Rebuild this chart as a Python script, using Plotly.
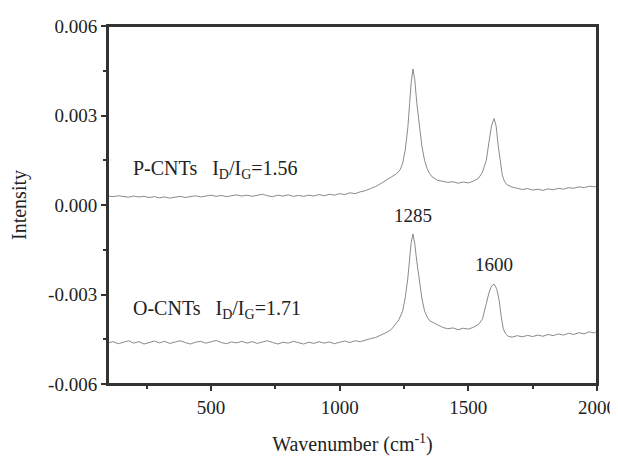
import plotly.graph_objects as go

# P-CNTs spectrum (wavenumber, intensity)
p_x = [100, 120, 140, 160, 180, 200, 220, 240, 260, 280, 300, 320, 340, 360, 380, 400,
       420, 440, 460, 480, 500, 520, 540, 560, 580, 600, 620, 640, 660, 680, 700, 720,
       740, 760, 780, 800, 820, 840, 860, 880, 900, 920, 940, 960, 980, 1000, 1020, 1040,
       1060, 1080, 1100, 1120, 1140, 1160, 1180, 1200, 1220, 1235, 1245, 1255, 1265, 1272,
       1278, 1285, 1292, 1300, 1310, 1320, 1330, 1340, 1350, 1360, 1380, 1400, 1420, 1440,
       1460, 1480, 1500, 1520, 1540, 1555, 1570, 1580, 1590, 1600, 1608, 1616, 1624, 1632,
       1640, 1650, 1670, 1690, 1710, 1730, 1750, 1770, 1790, 1810, 1830, 1850, 1870, 1890,
       1910, 1930, 1950, 1970, 1990, 2000]
p_y = [0.00030, 0.00028, 0.00031, 0.00029, 0.00026, 0.00030, 0.00027, 0.00029, 0.00025, 0.00028,
       0.00024, 0.00027, 0.00023, 0.00026, 0.00029, 0.00025, 0.00028, 0.00031, 0.00027, 0.00030,
       0.00033, 0.00029, 0.00032, 0.00028, 0.00031, 0.00034, 0.00030, 0.00033, 0.00029, 0.00032,
       0.00036, 0.00031, 0.00028, 0.00033, 0.00030, 0.00034, 0.00029, 0.00032, 0.00029, 0.00033,
       0.00030, 0.00035, 0.00031, 0.00036, 0.00033, 0.00038, 0.00035, 0.00041, 0.00038, 0.00044,
       0.00048, 0.00055, 0.00062, 0.00072, 0.00082, 0.00092, 0.00104, 0.00118, 0.00140, 0.00185,
       0.00260, 0.00340, 0.00410, 0.00456, 0.00420, 0.00340, 0.00260, 0.00195, 0.00150, 0.00122,
       0.00105, 0.00094, 0.00083, 0.00080, 0.00076, 0.00078, 0.00073, 0.00077, 0.00074, 0.00080,
       0.00090, 0.00110, 0.00150, 0.00210, 0.00265, 0.00290, 0.00265, 0.00200, 0.00140, 0.00100,
       0.00080, 0.00068, 0.00060, 0.00057, 0.00052, 0.00055, 0.00050, 0.00053, 0.00049, 0.00054,
       0.00051, 0.00056, 0.00053, 0.00058, 0.00056, 0.00061, 0.00058, 0.00063, 0.00061, 0.00065]

# O-CNTs spectrum (wavenumber, intensity)
o_x = [100, 120, 140, 160, 180, 200, 220, 240, 260, 280, 300, 320, 340, 360, 380, 400,
       420, 440, 460, 480, 500, 520, 540, 560, 580, 600, 620, 640, 660, 680, 700, 720,
       740, 760, 780, 800, 820, 840, 860, 880, 900, 920, 940, 960, 980, 1000, 1020, 1040,
       1060, 1080, 1100, 1120, 1140, 1160, 1180, 1200, 1215, 1230, 1245, 1255, 1265, 1272,
       1278, 1285, 1292, 1300, 1310, 1320, 1330, 1340, 1350, 1365, 1380, 1400, 1420, 1440,
       1460, 1480, 1500, 1520, 1540, 1555, 1570, 1580, 1590, 1600, 1610, 1620, 1628, 1636,
       1645, 1655, 1670, 1690, 1710, 1730, 1750, 1770, 1790, 1810, 1830, 1850, 1870, 1890,
       1910, 1930, 1950, 1970, 1990, 2000]
o_y = [-0.00462, -0.00458, -0.00465, -0.00460, -0.00455, -0.00463, -0.00458, -0.00466, -0.00460, -0.00456,
       -0.00462, -0.00457, -0.00464, -0.00459, -0.00455, -0.00461, -0.00466, -0.00460, -0.00457, -0.00463,
       -0.00458, -0.00454, -0.00461, -0.00465, -0.00459, -0.00462, -0.00457, -0.00463, -0.00458, -0.00464,
       -0.00459, -0.00455, -0.00461, -0.00466, -0.00460, -0.00463, -0.00457, -0.00462, -0.00466, -0.00460,
       -0.00464, -0.00458, -0.00463, -0.00459, -0.00465, -0.00460, -0.00456, -0.00461, -0.00455, -0.00458,
       -0.00452, -0.00448, -0.00444, -0.00437, -0.00428, -0.00418, -0.00402, -0.00385, -0.00355, -0.00310,
       -0.00245, -0.00180, -0.00125, -0.00097, -0.00130, -0.00190, -0.00260, -0.00315, -0.00355, -0.00375,
       -0.00388, -0.00395, -0.00402, -0.00410, -0.00415, -0.00412, -0.00418, -0.00413, -0.00416, -0.00410,
       -0.00400, -0.00382, -0.00330, -0.00295, -0.00272, -0.00265, -0.00280, -0.00320, -0.00375, -0.00415,
       -0.00432, -0.00440, -0.00443, -0.00438, -0.00442, -0.00437, -0.00441, -0.00436, -0.00440, -0.00434,
       -0.00438, -0.00432, -0.00436, -0.00430, -0.00434, -0.00428, -0.00432, -0.00425, -0.00429, -0.00422]

y_ticks = [0.006, 0.003, 0.0, -0.003, -0.006]
y_tick_text = ["0.006", "0.003", "0.000", "-0.003", "-0.006"]
x_ticks = [500, 1000, 1500, 2000]
x_tick_text = ["500", "1000", "1500", "2000"]

FONT = "Liberation Serif"
LINE = "#8a8a8a"
TXT = "#222222"
AXIS = "#333333"

fig = go.Figure()
fig.add_trace(go.Scatter(x=p_x, y=p_y, mode="lines", line=dict(color=LINE, width=1), showlegend=False))
fig.add_trace(go.Scatter(x=o_x, y=o_y, mode="lines", line=dict(color=LINE, width=1), showlegend=False))

fig.add_annotation(x=190, y=0.0012, xref="x", yref="y", xanchor="left", yanchor="middle",
                   text="P-CNTs&nbsp;&nbsp;&nbsp;I<sub>D</sub>/I<sub>G</sub>=1.56", showarrow=False,
                   font=dict(family=FONT, size=20, color=TXT))
fig.add_annotation(x=190, y=-0.0035, xref="x", yref="y", xanchor="left", yanchor="middle",
                   text="O-CNTs&nbsp;&nbsp;&nbsp;I<sub>D</sub>/I<sub>G</sub>=1.71", showarrow=False,
                   font=dict(family=FONT, size=20, color=TXT))
fig.add_annotation(x=1285, y=-0.00034, xref="x", yref="y", xanchor="center", yanchor="middle",
                   text="1285", showarrow=False, font=dict(family=FONT, size=19, color=TXT))
fig.add_annotation(x=1600, y=-0.0020, xref="x", yref="y", xanchor="center", yanchor="middle",
                   text="1600", showarrow=False, font=dict(family=FONT, size=19, color=TXT))

# plot frame
fig.add_shape(type="rect", xref="paper", yref="paper", x0=0, y0=0, x1=1, y1=1,
              line=dict(color=AXIS, width=2), fillcolor="rgba(0,0,0,0)", layer="above")

# the page body has an 8px default margin, so the figure is sized to fill the rest of the window
fig.update_layout(
    width=610, height=448,
    margin=dict(l=100, r=21, t=18, b=72),
    paper_bgcolor="white", plot_bgcolor="white",
    font=dict(family=FONT, size=19, color=TXT),
)
fig.update_xaxes(
    range=[100, 2000], tickvals=x_ticks, ticktext=x_tick_text, automargin=False,
    showgrid=False, zeroline=False, showline=True, linecolor=AXIS, linewidth=2, mirror=True,
    ticks="outside", ticklen=5, tickwidth=1.5, tickcolor=AXIS,
    minor=dict(ticks="outside", dtick=250, tick0=0, ticklen=3, tickwidth=1.5, tickcolor=AXIS),
    title=dict(text="Wavenumber (cm<sup>-1</sup>)", font=dict(family=FONT, size=20, color=TXT), standoff=24),
    tickfont=dict(family=FONT, size=19, color=TXT),
)
fig.update_yaxes(
    range=[-0.006, 0.006], tickvals=y_ticks, ticktext=y_tick_text, automargin=False,
    showgrid=False, zeroline=False, showline=True, linecolor=AXIS, linewidth=2, mirror=True,
    ticks="outside", ticklen=5, tickwidth=1.5, tickcolor=AXIS,
    minor=dict(ticks="outside", dtick=0.0015, tick0=0, ticklen=3, tickwidth=1.5, tickcolor=AXIS),
    title=dict(text="Intensity", font=dict(family=FONT, size=20, color=TXT), standoff=18),
    tickfont=dict(family=FONT, size=19, color=TXT),
)

fig.write_html("out.html", config={"displayModeBar": False},
               post_script="document.documentElement.style.overflow='hidden';document.body.style.overflow='hidden';")
